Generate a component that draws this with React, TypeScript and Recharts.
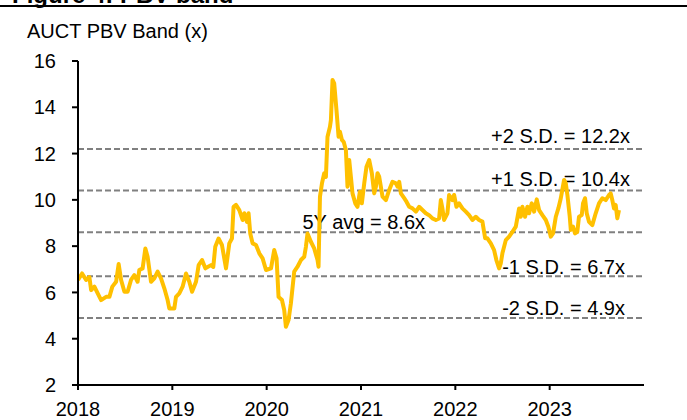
import React from 'react';
import { LineChart, Line, XAxis, YAxis, ReferenceLine } from 'recharts';

// Time as decimal year, P/BV multiple (x)
const years = [
  2018.0, 2018.043, 2018.086, 2018.121, 2018.139, 2018.174, 2018.209, 2018.245, 2018.298, 2018.333,
  2018.364, 2018.404, 2018.431, 2018.457, 2018.492, 2018.526, 2018.562, 2018.597, 2018.632, 2018.65,
  2018.685, 2018.714, 2018.738, 2018.774, 2018.809, 2018.844, 2018.88, 2018.915, 2018.95, 2018.968,
  2019.021, 2019.039, 2019.074, 2019.109, 2019.145, 2019.18, 2019.209, 2019.251, 2019.279, 2019.315,
  2019.35, 2019.41, 2019.434, 2019.455, 2019.49, 2019.526, 2019.569, 2019.604, 2019.632, 2019.649,
  2019.675, 2019.71, 2019.745, 2019.763, 2019.791, 2019.808, 2019.826, 2019.851, 2019.887, 2019.922,
  2019.957, 2019.993, 2020.046, 2020.08, 2020.105, 2020.126, 2020.162, 2020.186, 2020.204, 2020.232,
  2020.257, 2020.292, 2020.327, 2020.363, 2020.398, 2020.416, 2020.433, 2020.469, 2020.504, 2020.539,
  2020.55, 2020.565, 2020.586, 2020.61, 2020.628, 2020.645, 2020.671, 2020.681, 2020.698, 2020.716,
  2020.74, 2020.762, 2020.776, 2020.798, 2020.817, 2020.84, 2020.857, 2020.875, 2020.893, 2020.91,
  2020.939, 2020.963, 2020.988, 2021.009, 2021.034, 2021.058, 2021.087, 2021.115, 2021.14, 2021.158,
  2021.175, 2021.193, 2021.228, 2021.264, 2021.299, 2021.334, 2021.37, 2021.387, 2021.405, 2021.423,
  2021.458, 2021.482, 2021.511, 2021.546, 2021.582, 2021.616, 2021.651, 2021.687, 2021.722, 2021.757,
  2021.793, 2021.828, 2021.846, 2021.863, 2021.881, 2021.916, 2021.934, 2021.969, 2021.987, 2022.012,
  2022.04, 2022.075, 2022.111, 2022.146, 2022.181, 2022.217, 2022.252, 2022.287, 2022.316, 2022.34,
  2022.376, 2022.411, 2022.435, 2022.464, 2022.482, 2022.499, 2022.535, 2022.57, 2022.605, 2022.641,
  2022.676, 2022.694, 2022.711, 2022.739, 2022.764, 2022.782, 2022.81, 2022.835, 2022.863, 2022.888,
  2022.923, 2022.959, 2022.986, 2023.012, 2023.036, 2023.065, 2023.092, 2023.118, 2023.134, 2023.153,
  2023.171, 2023.188, 2023.213, 2023.224, 2023.248, 2023.269, 2023.293, 2023.311, 2023.34, 2023.354,
  2023.375, 2023.393, 2023.417, 2023.452, 2023.488, 2023.523, 2023.558, 2023.594, 2023.629, 2023.647,
  2023.664, 2023.682, 2023.7, 2023.717, 2023.735,
];

const pbv = [
  6.54, 6.82, 6.54, 6.66, 6.1, 6.25, 5.96, 5.67, 5.81, 5.81,
  6.25, 6.46, 7.23, 6.54, 6.03, 6.03, 6.54, 6.75, 6.46, 6.97,
  7.04, 7.9, 7.54, 6.46, 6.61, 6.9, 6.61, 6.18, 5.67, 5.31,
  5.31, 5.81, 5.96, 6.25, 6.82, 6.46, 6.03, 6.46, 7.18, 7.4,
  7.04, 7.18, 7.1, 7.97, 8.33, 8.05, 7.04, 8.12, 8.33, 9.7,
  9.78, 9.56, 9.13, 9.42, 9.05, 9.42, 8.55, 8.12, 8.05, 7.69,
  7.47, 6.97, 7.04, 7.83, 7.47, 5.81, 5.67, 5.24, 4.52, 4.81,
  5.53, 6.9, 7.11, 7.4, 7.54, 7.97, 8.55, 8.19, 7.9, 7.4,
  7.11, 10.14, 10.71, 11.15, 10.99, 12.73, 13.16, 13.45, 15.18, 15.03,
  13.88, 12.73, 12.95, 12.59, 12.5, 12.15, 10.57, 11.72, 10.99, 10.28,
  9.85, 9.7, 10.35, 9.85, 10.71, 11.43, 11.72, 11.15, 10.28, 10.57,
  11.15, 11.0, 10.14, 9.99, 10.43, 10.78, 10.71, 10.57, 10.78, 10.28,
  10.07, 9.92, 9.7, 9.63, 9.49, 9.7, 9.56, 9.42, 9.34, 9.2,
  9.13, 9.2, 9.99, 9.63, 9.13, 9.42, 10.21, 9.99, 10.21, 9.7,
  9.85, 9.63, 9.49, 9.34, 9.13, 9.27, 9.13, 9.06, 8.34, 8.34,
  8.12, 7.83, 7.4, 7.04, 7.26, 7.69, 8.26, 8.41, 8.62, 8.84,
  9.63, 9.27, 9.7, 9.27, 9.7, 9.42, 9.85, 9.49, 10.02, 9.56,
  9.34, 9.13, 8.84, 8.41, 8.55, 9.27, 9.63, 10.07, 10.43, 10.86,
  10.71, 10.21, 9.27, 8.7, 8.84, 8.55, 8.62, 9.27, 9.34, 9.85,
  10.07, 9.42, 9.05, 8.91, 9.42, 9.85, 10.07, 9.99, 10.21, 10.28,
  9.99, 9.63, 9.78, 9.2, 9.56,
];

const xTicks = [2018, 2019, 2020, 2021, 2022, 2023];
const yTicks = [2, 4, 6, 8, 10, 12, 14, 16];

const bandLevels = [12.2, 10.4, 8.6, 6.7, 4.9];
const bandLabels = ['+2 S.D. = 12.2x', '+1 S.D. = 10.4x', '5Y avg = 8.6x', '-1 S.D. = 6.7x', '-2 S.D. = 4.9x'];
// label layout: distance of text end from the plot's right edge, and lift above line
const labelInset = [14, 14, 219, 19, 19];
const labelLift = [6, 5, 3, 2, 3];

const chartTitle = 'Figure 4: PBV band';
const axisTitle = 'AUCT PBV Band (x)';

const data = years.map((t, i) => ({ t, v: pbv[i] }));

const FONT = '"Liberation Sans", Arial, Helvetica, sans-serif';

const makeLabel = (text: string, inset: number, lift: number) => (props: any) => {
  const vb = props.viewBox || {};
  const x = (vb.x ?? 0) + (vb.width ?? 0) - inset;
  const y = (vb.y ?? 0) - lift;
  return (
    <text x={x} y={y} textAnchor="end" fontSize={20} fill="#000" fontFamily={FONT}>
      {text}
    </text>
  );
};

export default function App() {
  return (
    <div
      style={{
        position: 'absolute',
        left: 0,
        top: 0,
        width: 687,
        height: 420,
        background: '#fff',
        overflow: 'hidden',
        fontFamily: FONT,
      }}
    >
      <div
        style={{
          position: 'absolute',
          left: 12,
          top: -17,
          fontSize: 24,
          lineHeight: '24px',
          fontWeight: 'bold',
          color: '#000',
          whiteSpace: 'nowrap',
        }}
      >
        {chartTitle}
      </div>
      <div style={{ position: 'absolute', left: 0, top: 5, width: 687, height: 2, background: '#000' }} />
      <div
        style={{
          position: 'absolute',
          left: 27,
          top: 21,
          fontSize: 20,
          lineHeight: '20px',
          color: '#000',
          whiteSpace: 'nowrap',
        }}
      >
        {axisTitle}
      </div>
      <div style={{ position: 'absolute', left: 0, top: 0 }}>
        <LineChart width={687} height={420} data={data} margin={{ top: 61, right: 43, bottom: 0, left: 0 }}>
          <XAxis
            dataKey="t"
            type="number"
            domain={[2018, 2024]}
            ticks={xTicks}
            allowDataOverflow
            height={35}
            axisLine={{ stroke: '#000', strokeWidth: 2 }}
            tickLine={{ stroke: '#000', strokeWidth: 2 }}
            tickSize={5}
            tickMargin={12}
            tick={{ fill: '#000', fontSize: 20, fontFamily: FONT }}
            interval={0}
          />
          <YAxis
            type="number"
            domain={[2, 16]}
            ticks={yTicks}
            width={78}
            axisLine={{ stroke: '#000', strokeWidth: 2 }}
            tickLine={{ stroke: '#000', strokeWidth: 2 }}
            tickSize={6}
            tickMargin={16}
            tick={{ fill: '#000', fontSize: 20, fontFamily: FONT }}
            interval={0}
          />
          {bandLevels.map((lvl, i) => (
            <ReferenceLine
              key={lvl}
              y={lvl}
              stroke="#808080"
              strokeWidth={2}
              strokeDasharray="6 3"
              label={makeLabel(bandLabels[i], labelInset[i], labelLift[i])}
            />
          ))}
          <Line
            type="linear"
            dataKey="v"
            stroke="#FFC000"
            strokeWidth={4}
            strokeLinejoin="round"
            dot={false}
            activeDot={false}
            isAnimationActive={false}
          />
        </LineChart>
      </div>
    </div>
  );
}
